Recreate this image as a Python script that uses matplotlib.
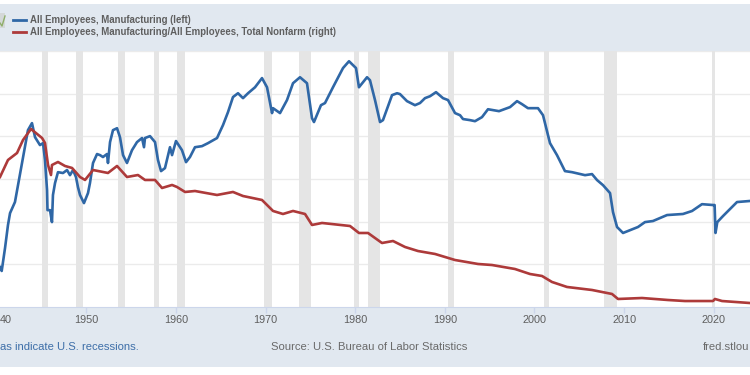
import matplotlib
matplotlib.use("Agg")
import matplotlib.pyplot as plt
from matplotlib.patches import Rectangle
from matplotlib.lines import Line2D

plt.rcParams['font.family'] = ['Liberation Sans', 'DejaVu Sans']

# All Employees, Manufacturing (thousands)
mfg_years = [1940.35, 1940.54, 1940.91, 1941.24, 1941.47, 1942.02, 1942.36, 1942.92, 1943.47, 1943.92,
             1944.26, 1944.81, 1945.15, 1945.37, 1945.6, 1945.65, 1945.93, 1946.15, 1946.26, 1946.49,
             1946.82, 1947.38, 1947.83, 1948.16, 1948.5, 1948.83, 1949.05, 1949.28, 1949.72, 1950.17,
             1950.39, 1950.73, 1951.18, 1951.51, 1951.84, 1952.29, 1952.4, 1952.63, 1952.96, 1953.41,
             1953.74, 1954.08, 1954.52, 1955.08, 1955.64, 1956.2, 1956.42, 1956.53, 1957.09, 1957.65,
             1957.98, 1958.32, 1958.76, 1959.32, 1959.55, 1959.99, 1960.66, 1961.11, 1961.55, 1962.11,
             1962.89, 1963.56, 1964.57, 1965.24, 1965.79, 1966.35, 1966.91, 1967.47, 1968.03, 1968.81,
             1969.59, 1970.15, 1970.71, 1970.82, 1971.6, 1972.38, 1973.05, 1973.83, 1974.61, 1975.17,
             1975.39, 1976.17, 1976.62, 1977.51, 1978.63, 1979.3, 1980.08, 1980.41, 1981.31, 1981.64,
             1982.2, 1982.76, 1983.09, 1984.1, 1984.66, 1984.99, 1985.77, 1986.66, 1987.22, 1987.78,
             1988.34, 1989.01, 1989.79, 1990.35, 1991.13, 1991.69, 1992.02, 1992.8, 1993.36, 1994.14,
             1994.81, 1996.04, 1997.27, 1998.05, 1998.6, 1999.27, 2000.39, 2000.95, 2001.73, 2002.51,
             2003.4, 2004.19, 2005.64, 2006.42, 2006.98, 2007.65, 2008.43, 2008.76, 2009.21, 2009.88,
             2011.55, 2012.33, 2013.22, 2014.79, 2016.57, 2017.58, 2018.69, 2019.92, 2020.1, 2020.2,
             2020.4, 2021.03, 2022.6, 2024.05]
mfg_values = [9870, 9690, 10760, 11840, 12400, 12920, 13710, 15030, 16290, 16620,
              15960, 15590, 15680, 14890, 13480, 12540, 12540, 11980, 13250, 13810,
              14320, 14280, 14420, 14180, 14420, 14090, 13620, 13250, 12870, 13340,
              13810, 14750, 15170, 15120, 15030, 15170, 14750, 15730, 16290, 16380,
              15960, 15120, 14750, 15350, 15730, 15920, 15490, 15920, 16010, 15730,
              14890, 14370, 14510, 15490, 15120, 15780, 15350, 14790, 15030, 15490,
              15540, 15680, 15920, 16530, 17130, 17840, 18020, 17790, 18020, 18300,
              18730, 18300, 17090, 17320, 17090, 17700, 18490, 18770, 18490, 16850,
              16670, 17460, 17560, 18300, 19200, 19520, 19200, 18300, 18770, 18630,
              17700, 16670, 16760, 17930, 18020, 17980, 17650, 17460, 17560, 17790,
              17880, 18070, 17790, 17700, 17090, 16990, 16810, 16760, 16710, 16900,
              17270, 17180, 17370, 17650, 17510, 17320, 17320, 16990, 15680, 15120,
              14370, 14320, 14180, 14230, 13950, 13710, 13340, 12450, 11750, 11470,
              11750, 11980, 12030, 12310, 12360, 12500, 12820, 12780, 12780, 11470,
              11980, 12260, 12920, 12970]

# Manufacturing share of total nonfarm (percent)
share_years = [1940.35, 1941.24, 1942.25, 1942.92, 1943.81, 1945.04, 1945.37, 1945.71, 1946.04, 1946.15,
               1946.82, 1947.6, 1948.39, 1949.28, 1949.84, 1950.73, 1952.4, 1953.41, 1954.52, 1955.75,
               1956.53, 1957.65, 1958.43, 1959.55, 1960.1, 1961.0, 1962.11, 1964.57, 1966.35, 1967.47,
               1969.59, 1970.82, 1971.93, 1973.05, 1974.39, 1975.17, 1976.29, 1979.41, 1980.41, 1981.42,
               1982.2, 1982.98, 1984.21, 1985.55, 1987.0, 1988.9, 1991.13, 1993.7, 1995.26, 1997.82,
               1999.5, 2000.84, 2001.95, 2003.63, 2006.42, 2008.65, 2009.32, 2012.0, 2014.9, 2016.8,
               2019.92, 2020.14, 2020.93, 2024.05]
share_values = [29.85, 32.84, 34.07, 36.36, 38.29, 36.71, 35.83, 31.96, 30.2, 31.96,
                32.49, 31.79, 31.44, 29.85, 29.33, 31.08, 30.56, 31.79, 29.85, 30.2,
                29.33, 29.33, 27.92, 28.45, 28.1, 27.22, 27.39, 26.69, 27.22, 26.51,
                25.81, 23.88, 23.35, 23.88, 23.35, 21.42, 21.77, 21.24, 20.01, 20.01,
                19.13, 18.25, 18.6, 17.55, 16.84, 16.32, 15.26, 14.56, 14.38, 13.68,
                12.8, 12.45, 11.4, 10.52, 9.99, 9.29, 8.41, 8.58, 8.23, 8.05,
                8.05, 8.41, 8.05, 7.7]

recessions = [(1945.04, 1945.71), (1948.83, 1949.61), (1953.52, 1954.3), (1957.54, 1958.1),
              (1960.1, 1961.0), (1969.81, 1970.71), (1973.72, 1975.06), (1979.86, 1980.41),
              (1981.42, 1982.76), (1990.35, 1991.02), (2001.06, 2001.62), (2007.76, 2009.21),
              (2019.81, 2020.1)]
tick_years = [1950, 1960, 1970, 1980, 1990, 2000, 2010, 2020]
left_ticks = [10000, 12000, 14000, 16000, 18000, 20000]

BAND = '#e1e8f0'
BLUE = '#2f67a6'
RED = '#ad3a3a'
GREY = '#5f5f5f'

fig = plt.figure(figsize=(7.5, 3.75), dpi=100)
W, H = 750.0, 375.0

# header and footer bands, kept behind the axes
fig.patches.append(Rectangle((0, 1 - 51 / H), 1, 47 / H, transform=fig.transFigure, color=BAND, lw=0, zorder=-1))
fig.patches.append(Rectangle((0, 8 / H), 1, 60 / H, transform=fig.transFigure, color=BAND, lw=0, zorder=-1))

ax = fig.add_axes([0, 1 - 307 / H, 1, 256 / H])
ax.set_xlim(1940.35, 2024.05)
ax.set_ylim(8000, 20000)
ax.set_yticks(left_ticks)
ax.set_yticklabels([])
ax.tick_params(axis='y', length=0)
ax.grid(axis='y', color='#ebebeb', lw=1)
ax.set_axisbelow(True)
for s in ['top', 'left', 'right']:
    ax.spines[s].set_visible(False)
ax.spines['bottom'].set_color('#ccd6eb')

for start, end in recessions:
    ax.axvspan(start, end, color='#e5e5e5', lw=0, zorder=1)

ax.plot(mfg_years, mfg_values, color=BLUE, lw=1.9, zorder=3)

ax.set_xticks(tick_years)
ax.set_xticklabels([str(y) for y in tick_years], fontsize=7.8, color=GREY)
ax.tick_params(axis='x', length=4, width=1, color='#ccd6eb', pad=1.5)

ax2 = ax.twinx()
ax2.set_ylim(7, 52)
ax2.set_yticks([])
for s in ax2.spines.values():
    s.set_visible(False)
ax2.plot(share_years, share_values, color=RED, lw=1.9)

# legend
fig.add_artist(Line2D([13 / W, 26 / W], [1 - 20 / H] * 2, color=BLUE, lw=2))
fig.add_artist(Line2D([13 / W, 26 / W], [1 - 32 / H] * 2, color=RED, lw=2))
fig.text(30 / W, 1 - 20 / H, 'All Employees, Manufacturing (left)', fontsize=6.95, fontweight='bold',
         color=GREY, va='center')
fig.text(30 / W, 1 - 32 / H, 'All Employees, Manufacturing/All Employees, Total Nonfarm (right)', fontsize=6.95,
         fontweight='bold', color=GREY, va='center')

# edit-graph icon, cropped at the left edge
fig.patches.append(Rectangle((0, 1 - 28 / H), 5 / W, 15 / H, transform=fig.transFigure, color='#d4d8d8', lw=0, zorder=-1))
fig.add_artist(Line2D([0, 2 / W, 5 / W], [1 - 23 / H, 1 - 26 / H, 1 - 16 / H], color='#8fae6a', lw=1))

# the 1940 label is cropped by the picture edge, only its end shows
fig.text(0, 1 - 320 / H, '40', fontsize=7.8, color=GREY, va='center')

# footer
fig.text(0.5 / W, 1 - 347 / H, 'as indicate U.S. recessions.', fontsize=8.1, color='#3d6ea8', va='center')
fig.text(271 / W, 1 - 347 / H, 'Source: U.S. Bureau of Labor Statistics', fontsize=8.1, color='#6a6a6a', va='center')
fig.text(703 / W, 1 - 347 / H, 'fred.stlou', fontsize=8.1, color='#6a6a6a', va='center')

fig.savefig('out.png', dpi=100)
